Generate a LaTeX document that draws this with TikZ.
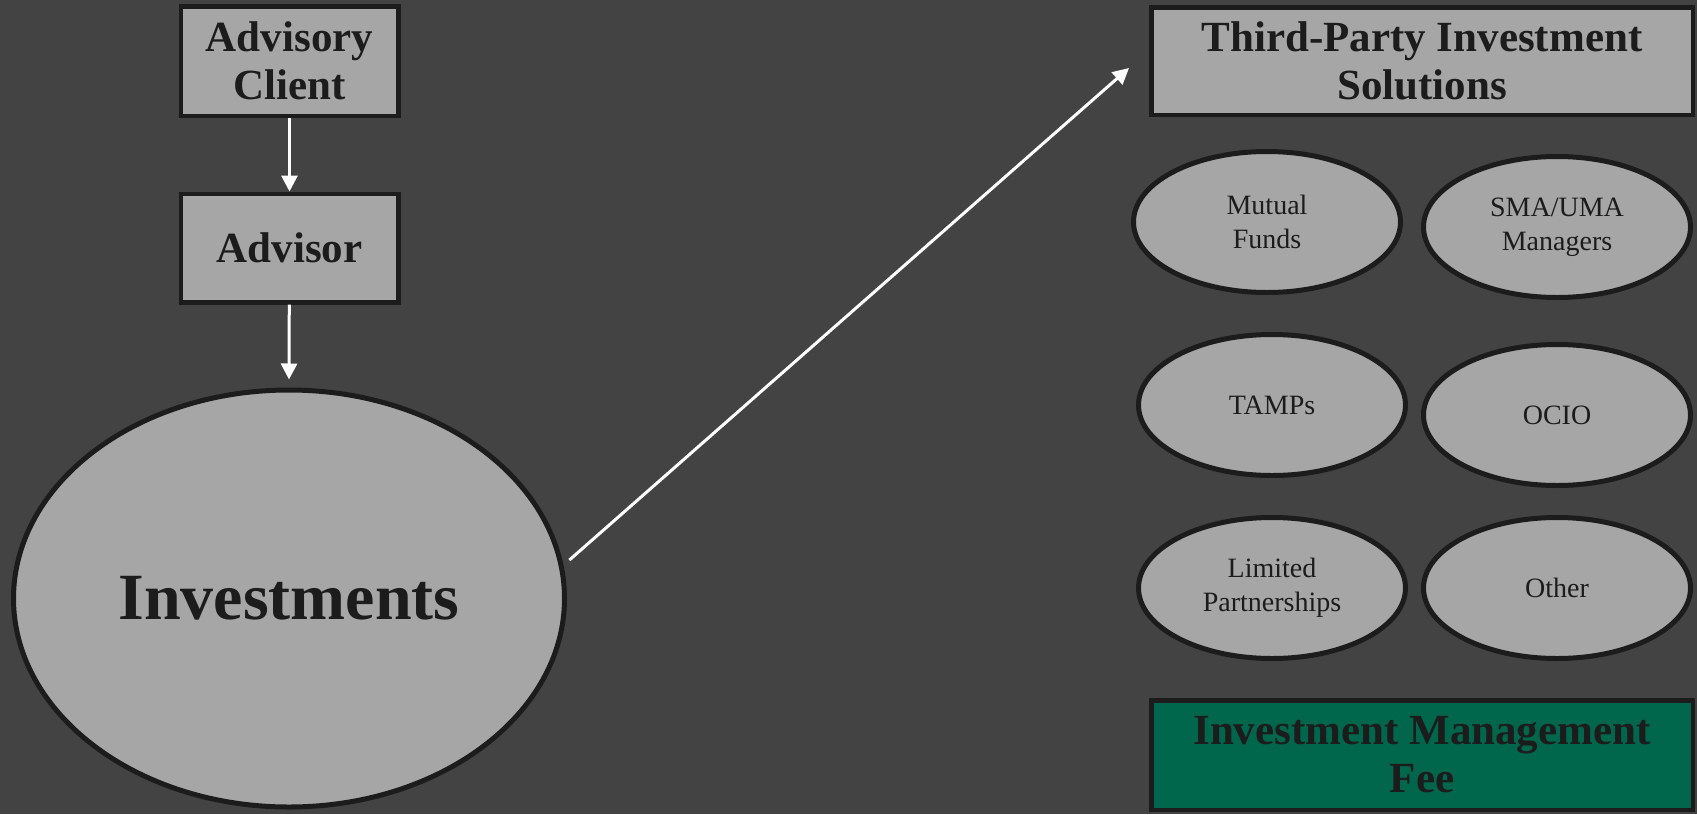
\documentclass[tikz,border=0pt]{standalone}
\usepackage{fontspec}
\setmainfont{Liberation Serif}
\usetikzlibrary{shapes.geometric,arrows.meta}
\definecolor{bg}{HTML}{434343}
\definecolor{boxfill}{HTML}{A6A6A6}
\definecolor{edge}{HTML}{1C1C1C}
\definecolor{feegreen}{HTML}{00674C}
\tikzset{
  box/.style={rectangle, draw=edge, line width=4.5pt, fill=boxfill, text=edge,
    align=center, inner sep=0pt, font=\fontsize{43}{48}\selectfont\bfseries},
  oval/.style={ellipse, draw=edge, line width=5pt, fill=boxfill, text=edge,
    align=center, inner sep=0pt, minimum width=267pt, minimum height=141pt,
    font=\fontsize{28}{34}\selectfont},
  arr/.style={draw=white, line width=3pt, -{Triangle[length=16pt,width=16pt]}}
}
\begin{document}
\begin{tikzpicture}[x=1pt,y=-1pt]
\fill[bg] (0,0) rectangle (1697,814);
\useasboundingbox (0,0) rectangle (1697,814);

\node[box, minimum width=217.5pt, minimum height=109.5pt] (client) at (289.5,61) {Advisory\\Client};
\node[box, minimum width=217.5pt, minimum height=108.5pt] (advisor) at (289.5,248) {Advisor};
\node[ellipse, draw=edge, line width=5pt, fill=boxfill, text=edge, inner sep=0pt,
  minimum width=551pt, minimum height=417pt, font=\fontsize{66}{72}\selectfont\bfseries]
  (inv) at (289,598.5) {Investments};

\node[box, minimum width=541.5pt, minimum height=107.5pt] (third) at (1422,61) {Third-Party Investment\\Solutions};
\node[box, fill=feegreen, minimum width=541.5pt, minimum height=109.5pt] (fee) at (1422,755) {Investment Management\\Fee};

\node[oval] (mf) at (1267,222) {Mutual\\Funds};
\node[oval] (sma) at (1557,227) {SMA/UMA\\Managers};
\node[oval] (tamps) at (1272,405) {TAMPs};
\node[oval] (ocio) at (1557,415) {OCIO};
\node[oval] (lp) at (1272,588) {Limited\\Partnerships};
\node[oval] (other) at (1557,588) {Other};

\coordinate (tip) at (1129,68);
\draw[arr] (client) -- (advisor);
\draw[arr] (advisor) -- ([yshift=8pt]inv.north);
\draw[arr] ([xshift=7pt]inv.8) -- (tip);
\end{tikzpicture}
\end{document}
